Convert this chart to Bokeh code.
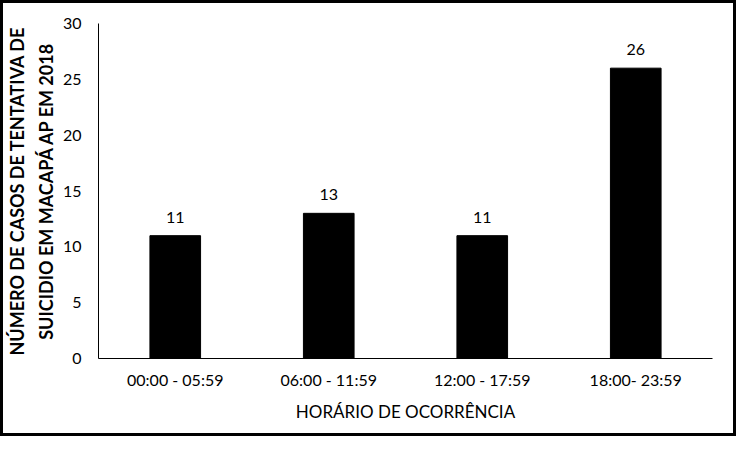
from bokeh.plotting import figure
from bokeh.models import ColumnDataSource, LabelSet, Range1d, FixedTicker
from bokeh.core.properties import value
from bokeh.embed import file_html
from bokeh.resources import INLINE

categories = ["00:00 - 05:59", "06:00 - 11:59", "12:00 - 17:59", "18:00- 23:59"]
values = [11, 13, 11, 26]
y_ticks = [0, 5, 10, 15, 20, 25, 30]
x_title = "HORÁRIO DE OCORRÊNCIA"
y_title = "NÚMERO DE CASOS DE TENTATIVA DE\nSUICIDIO EM MACAPÁ AP EM 2018"

FONT = "Lato"

src = ColumnDataSource(dict(cat=categories, val=values, lab=[str(v) for v in values]))

p = figure(x_range=categories, y_range=Range1d(0, 30), width=736, height=436,
           output_backend="svg", toolbar_location=None,
           min_border_left=89, min_border_right=27, min_border_top=20, min_border_bottom=81)
p.styles = {"border": "3px solid black"}
p.x_range.range_padding = 0

p.vbar(x="cat", top="val", width=0.33, color="black", source=src)
labels = LabelSet(x="cat", y="val", text="lab", source=src, y_offset=13,
                  text_align="center", text_baseline="bottom",
                  text_font=value(FONT), text_font_size="16px", text_color="black")
p.add_layout(labels)

p.xgrid.visible = False
p.ygrid.visible = False
p.outline_line_color = None

for ax in (p.xaxis[0], p.yaxis[0]):
    ax.axis_line_color = "black"
    ax.axis_line_width = 1
    ax.major_tick_line_color = None
    ax.minor_tick_line_color = None
    ax.major_label_text_font = FONT
    ax.major_label_text_font_size = "16px"
    ax.major_label_text_color = "black"
    ax.axis_label_text_font = FONT
    ax.axis_label_text_font_size = "17px"
    ax.axis_label_text_color = "black"
    ax.axis_label_text_font_style = "normal"

p.yaxis.ticker = FixedTicker(ticks=y_ticks)
p.yaxis.major_label_standoff = 11
p.yaxis.axis_label = y_title
p.yaxis.axis_label_text_font_style = "bold"
p.yaxis.axis_label_text_font_size = "18px"
p.yaxis.axis_label_standoff = 3
p.yaxis.axis_label_text_line_height = 1.3

p.xaxis.major_label_standoff = 5
p.xaxis.axis_label = x_title
p.xaxis.axis_label_standoff = 9

open("out.html", "w").write(file_html(p, INLINE))
